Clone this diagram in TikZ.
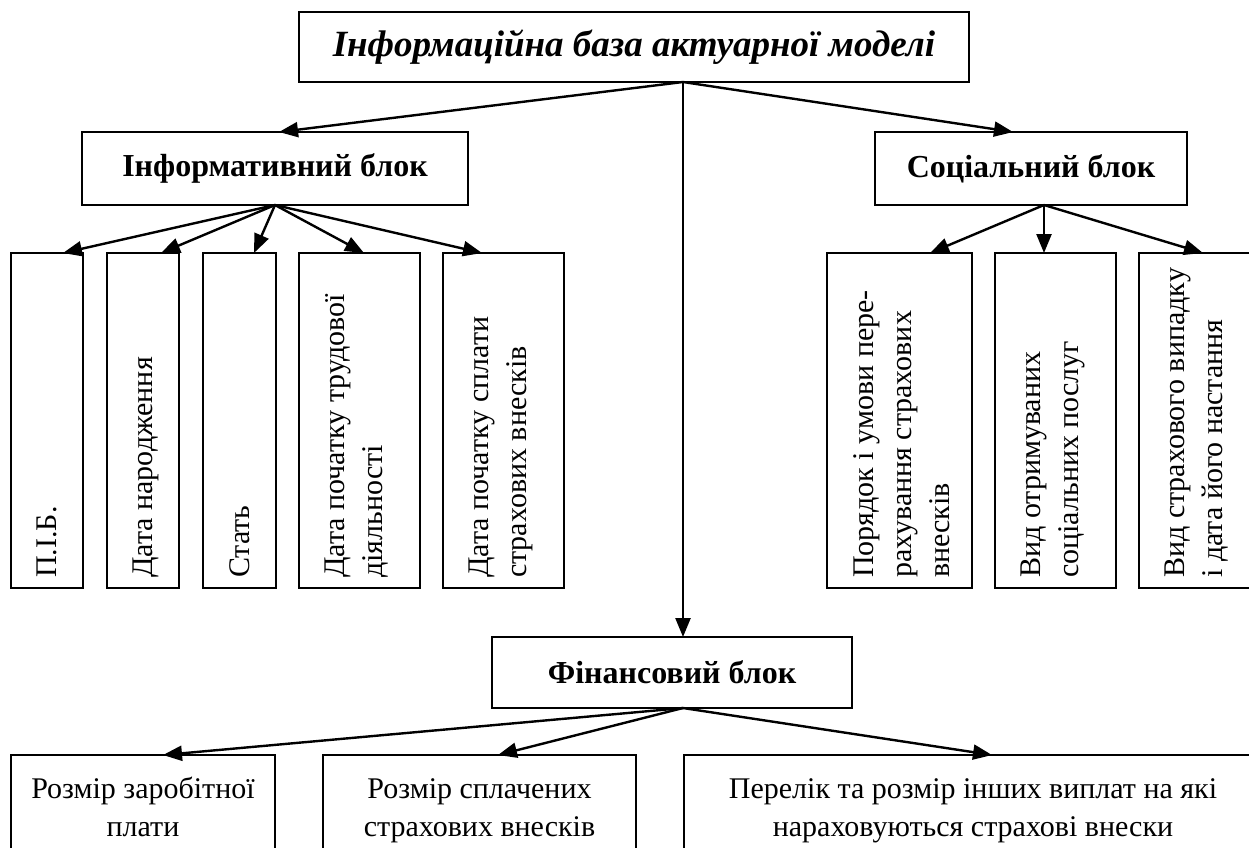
\documentclass[tikz,border=0pt]{standalone}
\usepackage{fontspec}
\setmainfont{Liberation Serif}
\usetikzlibrary{arrows.meta,calc}
\newcommand{\tstr}{\rule{0pt}{29pt}}
\newcommand{\bstr}{\rule[-9pt]{0pt}{9pt}}
\begin{document}
\begin{tikzpicture}[x=1pt,y=-1pt,
  box/.style={draw, line width=1.6pt, inner sep=0pt, outer sep=0pt},
  conn/.style={line width=2.4pt, -{Triangle[length=19pt,width=15pt]}},
  vtext/.style={rotate=90, align=left, inner sep=0pt, anchor=north west, font=\fontsize{30}{38}\selectfont},
  htext/.style={align=center, inner sep=0pt, font=\fontsize{30}{38}\selectfont},
  btitle/.style={font=\fontsize{32}{36}\selectfont\bfseries}]
\useasboundingbox (0,0) rectangle (1249,847);
% main boxes
\node[box, minimum width=670pt, minimum height=70pt, font=\fontsize{37}{40}\selectfont\bfseries\itshape] (top) at (634,47) {Інформаційна база актуарної моделі};
\node[box, btitle, minimum width=386pt, minimum height=73pt] (info) at (275,168.5) {Інформативний блок};
\node[box, btitle, minimum width=312pt, minimum height=73pt] (soc) at (1031,168.5) {Соціальний блок};
\node[box, btitle, minimum width=360pt, minimum height=71pt] (fin) at (672,672.5) {Фінансовий блок};
% vertical boxes (informative)
\node[box, minimum width=72pt, minimum height=335pt] (v1) at (47,420.5) {};
\node[box, minimum width=72pt, minimum height=335pt] (v2) at (143,420.5) {};
\node[box, minimum width=73pt, minimum height=335pt] (v3) at (239.5,420.5) {};
\node[box, minimum width=121pt, minimum height=335pt] (v4) at (359.5,420.5) {};
\node[box, minimum width=121pt, minimum height=335pt] (v5) at (503.5,420.5) {};
% vertical boxes (social)
\node[box, minimum width=145pt, minimum height=335pt] (s1) at (899.5,420.5) {};
\node[box, minimum width=121pt, minimum height=335pt] (s2) at (1055.5,420.5) {};
\node[box, minimum width=123pt, minimum height=335pt] (s3) at (1200.5,420.5) {};
% vertical texts
\node[vtext] (v1t) at ($(v1.south west)+(26,-10)$) {П.І.Б.};
\node[vtext] (v2t) at ($(v2.south west)+(26,-10)$) {Дата народження};
\node[vtext] (v3t) at ($(v3.south west)+(26,-10)$) {Стать};
\node[vtext] (v4t) at ($(v4.south west)+(26,-10)$) {Дата початку трудової\\діяльності};
\node[vtext] (v5t) at ($(v5.south west)+(26,-10)$) {Дата початку сплати\\страхових внесків};
\node[vtext] (s1t) at ($(s1.south west)+(26,-10)$) {Порядок і умови пере-\\рахування страхових\\внесків};
\node[vtext] (s2t) at ($(s2.south west)+(26,-10)$) {Вид отримуваних\\соціальних послуг};
\node[vtext] (s3t) at ($(s3.south west)+(26,-10)$) {Вид страхового випадку\\і дата його настання};
% bottom boxes
\node[box, htext, minimum width=264pt, minimum height=104pt] (b1) at (143,807) {\tstr Розмір заробітної\\плати\bstr};
\node[box, htext, minimum width=313pt, minimum height=104pt] (b2) at (479.5,807) {\tstr Розмір сплачених\\страхових внесків\bstr};
\node[box, htext, minimum width=578pt, minimum height=104pt] (b3) at (973,807) {\tstr Перелік та розмір інших виплат на які\\нараховуються страхові внески\bstr};
% connector anchors
\coordinate (o0) at (683,82);
\coordinate (ti) at (279,132);
\coordinate (ts) at (1013,132);
\coordinate (tf) at (683,637);
\coordinate (oi) at (275,205);
\coordinate (os) at (1044,205);
\coordinate (of) at (683,708);
\coordinate (t1) at (63,253);
\coordinate (t2) at (161,253);
\coordinate (t3) at (254,253);
\coordinate (t4) at (364,253);
\coordinate (t5) at (482,253);
\coordinate (u1) at (930,253);
\coordinate (u2) at (1044,253);
\coordinate (u3) at (1203,253);
\coordinate (w1) at (163,755);
\coordinate (w2) at (498,755);
\coordinate (w3) at (992,755);
% connectors
\draw[conn] (o0) -- (ti);
\draw[conn] (o0) -- (ts);
\draw[conn] (o0) -- (tf);
\foreach \t in {t1,t2,t3,t4,t5} \draw[conn] (oi) -- (\t);
\foreach \t in {u1,u2,u3} \draw[conn] (os) -- (\t);
\foreach \t in {w1,w2,w3} \draw[conn] (of) -- (\t);
\end{tikzpicture}
\end{document}
